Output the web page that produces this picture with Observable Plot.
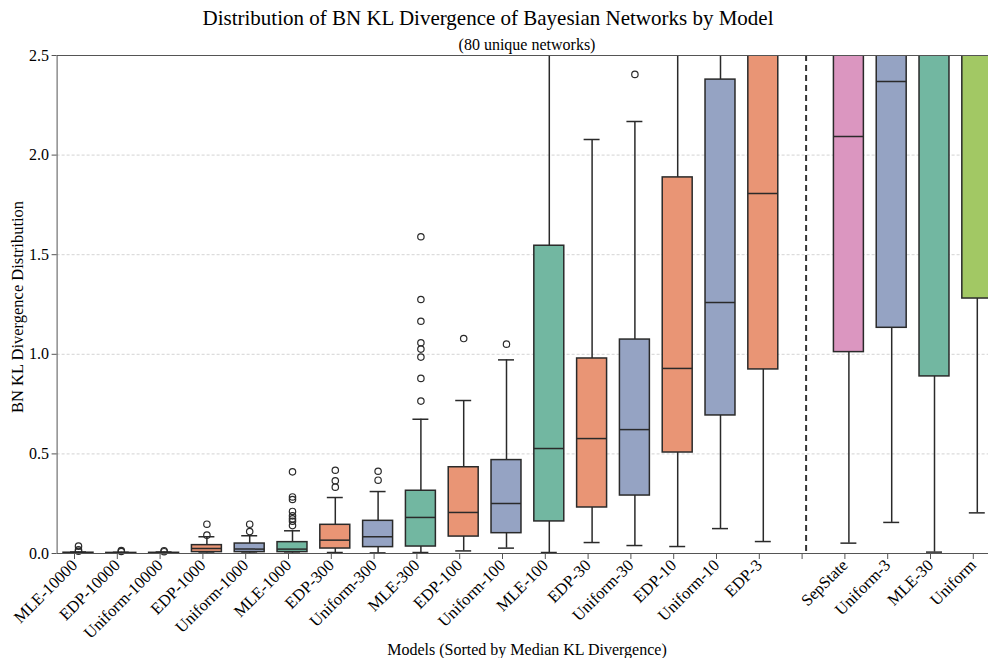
<!DOCTYPE html>
<html>
<head>
<meta charset="utf-8">
<script src="https://cdn.jsdelivr.net/npm/d3@7"></script>
<script src="https://cdn.jsdelivr.net/npm/@observablehq/plot@0.6"></script>
<style>
  body { margin: 0; background: #fff; }
  #wrap { position: relative; width: 988px; height: 658px; overflow: hidden; background: #fff;
          font-family: "Liberation Serif", "DejaVu Serif", serif; color: #000; }
  #chart { position: absolute; left: 0; top: 0; width: 1000px; }
  #chart svg { max-width: none !important; }
  .t { position: absolute; white-space: nowrap; line-height: 1; transform: translate(-50%, -50%);
       font-family: "Liberation Serif", "DejaVu Serif", serif; }
</style>
</head>
<body>
<div id="wrap">
  <div id="chart"></div>
  <div class="t" style="left:488px; top:18px; font-size:21px;">Distribution of BN KL Divergence of Bayesian Networks by Model</div>
  <div class="t" style="left:527px; top:45px; font-size:16px;">(80 unique networks)</div>
  <div class="t" style="left:527px; top:650px; font-size:16px;">Models (Sorted by Median KL Divergence)</div>
  <div class="t" style="left:18px; top:307px; font-size:16.5px; transform: translate(-50%, -50%) rotate(-90deg);">BN KL Divergence Distribution</div>
</div>
<script>
// Models in display order; "divider" is an empty slot holding the dashed separator.
const models = ["MLE-10000", "EDP-10000", "Uniform-10000", "EDP-1000", "Uniform-1000", "MLE-1000",
  "EDP-300", "Uniform-300", "MLE-300", "EDP-100", "Uniform-100", "MLE-100",
  "EDP-30", "Uniform-30", "EDP-10", "Uniform-10", "EDP-3",
  "SepState", "Uniform-3", "MLE-30", "Uniform"];
const slots = [...models.slice(0, 17), "divider", ...models.slice(17)];

// Colour group of each model
const groups = ["MLE", "EDP", "Uniform", "EDP", "Uniform", "MLE",
  "EDP", "Uniform", "MLE", "EDP", "Uniform", "MLE",
  "EDP", "Uniform", "EDP", "Uniform", "EDP",
  "SepState", "Uniform", "MLE", "Baseline"];

// Box statistics per model (values above 2.5 fall outside the visible range)
const whiskerLow = [0.000, 0.000, 0.000, 0.002, 0.002, 0.002, 0.005, 0.003, 0.005, 0.013, 0.027, 0.005,
  0.055, 0.040, 0.035, 0.125, 0.060, 0.052, 0.156, 0.007, 0.204];
const q1 = [0.0005, 0.0003, 0.0004, 0.007, 0.007, 0.007, 0.025, 0.032, 0.035, 0.085, 0.102, 0.161,
  0.231, 0.291, 0.507, 0.693, 0.924, 1.011, 1.133, 0.889, 1.280];
const median = [0.002, 0.001, 0.0015, 0.025, 0.022, 0.022, 0.067, 0.084, 0.181, 0.206, 0.251, 0.527,
  0.577, 0.622, 0.929, 1.260, 1.807, 2.093, 2.370, 2.800, 3.000];
const q3 = [0.004, 0.003, 0.0035, 0.042, 0.050, 0.057, 0.144, 0.164, 0.315, 0.433, 0.469, 1.545,
  0.979, 1.074, 1.888, 2.379, 3.100, 3.000, 2.900, 3.600, 3.900];
const whiskerHigh = [0.008, 0.006, 0.007, 0.084, 0.089, 0.114, 0.281, 0.311, 0.674, 0.768, 0.972, 3.600,
  2.078, 2.169, 3.900, 4.800, 4.900, 4.900, 5.400, 6.500, 7.200];

// Outliers: model and value
const outlierModel = ["MLE-10000", "MLE-10000", "MLE-10000", "EDP-10000", "EDP-10000", "Uniform-10000", "Uniform-10000",
  "EDP-1000", "EDP-1000", "Uniform-1000", "Uniform-1000",
  "MLE-1000", "MLE-1000", "MLE-1000", "MLE-1000", "MLE-1000", "MLE-1000", "MLE-1000", "MLE-1000",
  "EDP-300", "EDP-300", "EDP-300", "Uniform-300", "Uniform-300",
  "MLE-300", "MLE-300", "MLE-300", "MLE-300", "MLE-300", "MLE-300", "MLE-300", "MLE-300",
  "EDP-100", "Uniform-100", "Uniform-30"];
const outlierValue = [0.011, 0.018, 0.037, 0.010, 0.015, 0.009, 0.014,
  0.092, 0.147, 0.110, 0.147,
  0.140, 0.162, 0.174, 0.189, 0.211, 0.271, 0.284, 0.410,
  0.333, 0.365, 0.418, 0.368, 0.413,
  0.765, 0.879, 0.986, 1.026, 1.058, 1.166, 1.275, 1.590,
  1.079, 1.051, 2.405];

const groupNames = ["MLE", "EDP", "Uniform", "SepState", "Baseline"];
const groupColors = ["#72b7a1", "#e99575", "#95a3c3", "#db96c0", "#a2c864"];

const yTicks = [0, 0.5, 1.0, 1.5, 2.0, 2.5];
const gridLines = [0.5, 1.0, 1.5, 2.0];

const stats = models.map((m, i) => ({
  model: m, group: groups[i], lo: whiskerLow[i], q1: q1[i], median: median[i], q3: q3[i], hi: whiskerHigh[i]
}));
const outliers = outlierModel.map((m, i) => ({model: m, value: outlierValue[i]}));

const line = "#2a2a2a";

const chart = Plot.plot({
  width: 1000,
  height: 658,
  marginTop: 55,
  marginBottom: 105,
  marginLeft: 56.6,
  marginRight: 1.8,
  style: {fontFamily: "Liberation Serif, DejaVu Serif, serif", fontSize: "16px", background: "transparent", color: "#000", maxWidth: "none"},
  x: {domain: slots, paddingInner: 0.3, paddingOuter: 0.15, round: false},
  y: {domain: [0, 2.5]},
  color: {domain: groupNames, range: groupColors},
  marks: [
    Plot.ruleY(gridLines, {stroke: "#c8c8c8", strokeWidth: 0.8, strokeDasharray: "3,2"}),
    Plot.ruleX(["divider"], {stroke: "#333", strokeWidth: 2, strokeDasharray: "6,4"}),
    Plot.ruleX(stats, {x: "model", y1: "lo", y2: "q1", stroke: line, strokeWidth: 1.5, clip: true}),
    Plot.ruleX(stats, {x: "model", y1: "q3", y2: "hi", stroke: line, strokeWidth: 1.5, clip: true}),
    Plot.tickY(stats, {x: "model", y: "lo", stroke: line, strokeWidth: 1.5, inset: 7, clip: true}),
    Plot.tickY(stats, {x: "model", y: "hi", stroke: line, strokeWidth: 1.5, inset: 7, clip: true}),
    Plot.barY(stats, {x: "model", y1: "q1", y2: "q3", fill: "group", stroke: line, strokeWidth: 1.5, clip: true}),
    Plot.tickY(stats, {x: "model", y: "median", stroke: line, strokeWidth: 1.5, clip: true}),
    Plot.dot(outliers, {x: "model", y: "value", r: 3.2, stroke: line, strokeWidth: 1.2, fill: "none"}),
    Plot.frame({stroke: "#555", strokeWidth: 1}),
    Plot.axisY({ticks: yTicks, tickFormat: d3.format(".1f"), tickSize: 5, tickPadding: 3, label: null, stroke: "#555", fontSize: 16}),
    Plot.axisX({tickRotate: -45, tickFormat: d => d === "divider" ? "" : d, tickSize: 5, tickPadding: 3, label: null,
      stroke: "#555", fontSize: 16.5, dx: -4, dy: 1})
  ]
});
document.getElementById("chart").appendChild(chart);
</script>
</body>
</html>
